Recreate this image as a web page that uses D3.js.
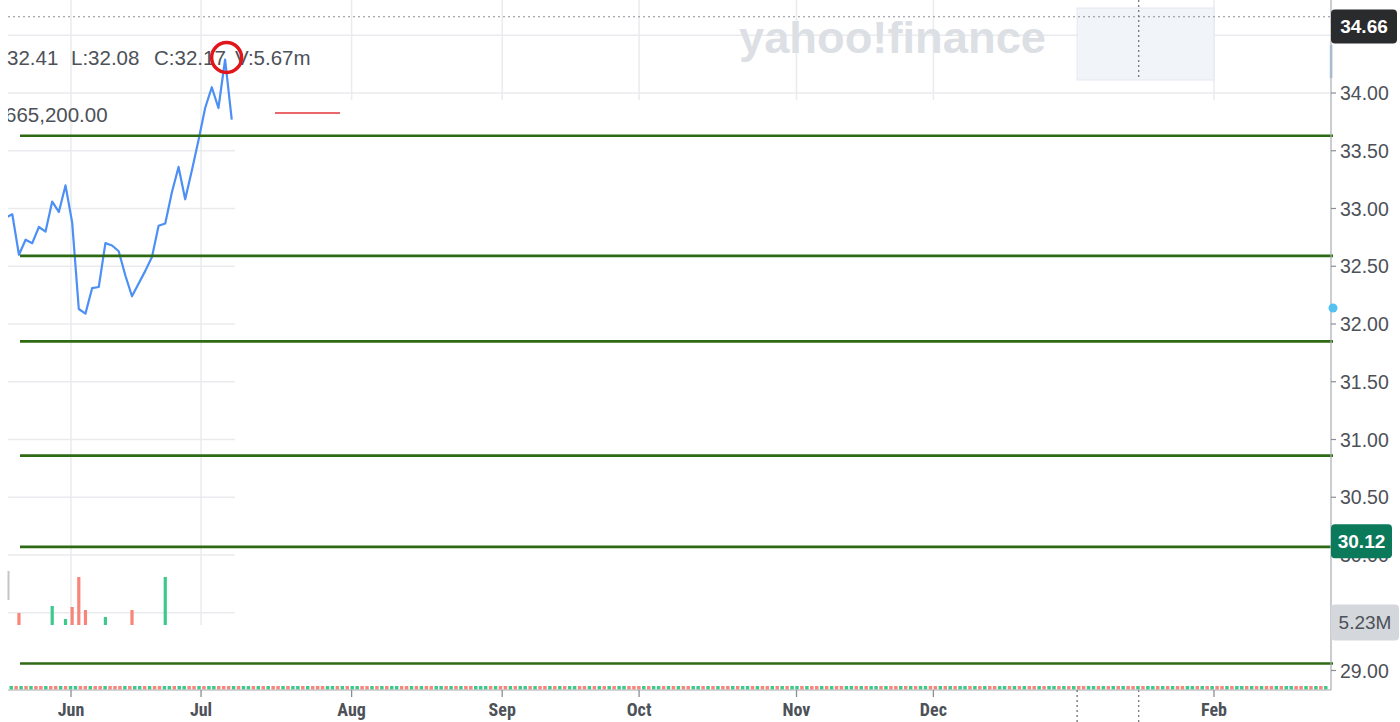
<!DOCTYPE html>
<html>
<head>
<meta charset="utf-8">
<script src="https://cdn.jsdelivr.net/npm/d3@7"></script>
<style>
  body { margin: 0; background: #fff; }
  svg { display: block; font-family: "Liberation Sans", Arial, sans-serif; }
</style>
</head>
<body>
<svg width="1400" height="722"></svg>
<script>
// daily closes of the small inset chart (late May -> early Jul)
var closes = [32.92, 32.95, 32.60, 32.73, 32.70, 32.84, 32.80, 33.06, 32.97, 33.20,
              32.88, 32.13, 32.09, 32.31, 32.32, 32.70, 32.68, 32.63, 32.42, 32.24,
              32.35, 32.46, 32.58, 32.85, 32.87, 33.14, 33.36, 33.08, 33.33, 33.59,
              33.87, 34.05, 33.87, 34.29, 33.77];

// visible volume bars of the inset (index into closes, millions, up/down)
var volIndex = [2, 7, 9, 10, 11, 12, 15, 19, 24];
var volValue = [2.4, 3.8, 1.2, 3.6, 9.6, 3.0, 1.6, 3.0, 9.6];
var volDir   = ["R", "G", "G", "R", "R", "R", "G", "R", "G"];

// horizontal levels drawn over the chart
var levels = [33.63, 32.59, 31.85, 30.86, 30.07, 29.06];

// right axis price labels
var lastPrice = 34.66;
var markPrice = 30.12;
var volLabel = "5.23M";
var yTicks = d3.range(29, 34.51, 0.5);
var hiddenTicks = [29.5, 34.5]; // fully under the label boxes

// header text
var header = ["32.41", "L:32.08", "C:32.17", "V:5.67m"];
var subHeader = "665,200.00";

// month ticks on the bottom axis (first trading day)
var monthDates  = ["2024-06-03", "2024-07-01", "2024-08-01", "2024-09-03", "2024-10-01",
                   "2024-11-01", "2024-12-02", "2025-01-02", "2025-02-03"];
var monthLabels = ["Jun", "Jul", "Aug", "Sep", "Oct", "Nov", "Dec", "", "Feb"];
var crossDate = "2025-01-16";
var holidays = ["2024-05-27", "2024-06-19", "2024-07-04", "2024-09-02", "2024-11-28",
                "2024-12-25", "2025-01-01", "2025-01-09", "2025-01-20"];

// up/down colour of the thin volume strip along the bottom
var strip = "GRGRGRRGRRGRGGRRGRRGRRRGRGGRGRRGGRGGRRGRGGRRRGRGGRGRGRRGRGGRGRRRGGRGRGGRRGRGRGGRRGRGRRGGRGRGRRGGGRGRRGRGGRGRRGRGRGGRRGRGRGRGGRRRGRGGRGRGRRGGRGRGRRGRGGRGRRGRGRGGRGRRGRGRRGGRGRGGRGRRGRGRGGRRGRGRGGRGRGRRGGRGRGRRGRGGRGRGRRGGRGRGRGRRGRGGRGRGRRGGRGRGRRGRGGRGRGRRGRGGRRGRGRG".split("");

var svg = d3.select("svg");
var W = 1400, H = 722;
var left = 8, axisX = 1331, axisY = 690;
var insetRight = 235, insetBottom = 625, bandBottom = 100;

var upColor = "#3cc98c", downColor = "#f7857a";
var textColor = "#4d5158";

var fmt = d3.timeFormat("%Y-%m-%d");
var days = d3.timeDay.range(new Date(2024, 4, 20), new Date(2025, 2, 1))
  .filter(d => d.getDay() % 6 !== 0 && holidays.indexOf(fmt(d)) < 0)
  .map(fmt);
var dayIdx = s => days.indexOf(s);

var x = d3.scaleLinear()
  .domain([dayIdx(monthDates[0]), dayIdx(monthDates[monthDates.length - 1])])
  .range([71, 1214]);
var y = d3.scaleLinear().domain([29, 34]).range([670.5, 93]);
var xInset = d3.scaleLinear().domain([0, closes.length - 1]).range([5.65, 231.75]);
var yVol = d3.scaleLinear().domain([0, 12]).range([insetBottom, 565]);

// clip: gridlines only show in the inset and in the top band
var defs = svg.append("defs");
var gridClip = defs.append("clipPath").attr("id", "gridClip");
gridClip.append("rect").attr("x", left).attr("y", 0).attr("width", insetRight - left).attr("height", insetBottom);
gridClip.append("rect").attr("x", left).attr("y", 0).attr("width", axisX - left).attr("height", bandBottom);
defs.append("clipPath").attr("id", "insetClip")
  .append("rect").attr("x", left).attr("y", 0).attr("width", insetRight - left).attr("height", H);

var grid = svg.append("g").attr("clip-path", "url(#gridClip)")
  .attr("stroke", "#eaebee").attr("stroke-width", 1.5);
grid.selectAll(".hg").data(yTicks).enter().append("line")
  .attr("x1", left).attr("x2", axisX)
  .attr("y1", d => y(d)).attr("y2", d => y(d));
grid.selectAll(".vg").data(monthDates.filter((d, i) => monthLabels[i] !== "")).enter().append("line")
  .attr("x1", d => x(dayIdx(d))).attr("x2", d => x(dayIdx(d)))
  .attr("y1", 0).attr("y2", insetBottom);

// range box over Jan -> Feb
svg.append("rect")
  .attr("x", x(dayIdx("2025-01-02"))).attr("y", 8)
  .attr("width", x(dayIdx("2025-02-03")) - x(dayIdx("2025-01-02"))).attr("height", 72)
  .attr("fill", "#f1f5f9").attr("stroke", "#e2e8ef").attr("stroke-width", 1);

// watermark
svg.append("text")
  .attr("x", 739).attr("y", 53)
  .attr("font-size", 45).attr("font-weight", 900)
  .attr("textLength", 307).attr("lengthAdjust", "spacingAndGlyphs")
  .attr("fill", "#dcdfe4")
  .text("yahoo!finance");

// last price dotted line + crosshair
svg.append("line")
  .attr("x1", left).attr("x2", axisX).attr("y1", y(lastPrice)).attr("y2", y(lastPrice))
  .attr("stroke", "#8d9096").attr("stroke-width", 1.2).attr("stroke-dasharray", "2,3");
var cx = x(dayIdx(crossDate));
svg.append("line").attr("x1", cx).attr("x2", cx).attr("y1", 0).attr("y2", 80)
  .attr("stroke", "#6b6f75").attr("stroke-width", 1.2).attr("stroke-dasharray", "2,3");
svg.append("line").attr("x1", cx).attr("x2", cx).attr("y1", axisY).attr("y2", H)
  .attr("stroke", "#6b6f75").attr("stroke-width", 1.2).attr("stroke-dasharray", "2,3");

// header text
var headerX = [7, 71, 154, 235];
svg.selectAll(".hdr").data(header).enter().append("text")
  .attr("x", (d, i) => headerX[i]).attr("y", 65)
  .attr("font-size", 20.5).attr("fill", textColor)
  .text(d => d);
svg.append("g").attr("clip-path", "url(#insetClip)")
  .append("text").attr("x", 5).attr("y", 122)
  .attr("font-size", 20.5).attr("fill", textColor)
  .text(subHeader);

// red short line
svg.append("line").attr("x1", 275).attr("x2", 340).attr("y1", 113).attr("y2", 113)
  .attr("stroke", "#e3353a").attr("stroke-width", 1.5);

// inset price line
var inset = svg.append("g").attr("clip-path", "url(#insetClip)");
inset.append("path")
  .datum(closes)
  .attr("fill", "none").attr("stroke", "#4c8ff5").attr("stroke-width", 2.2)
  .attr("stroke-linejoin", "round")
  .attr("d", d3.line().x((d, i) => xInset(i)).y(d => y(d)));

// inset volume bars
inset.selectAll(".vol").data(volIndex).enter().append("rect")
  .attr("x", d => xInset(d) - 1.6).attr("width", 3.2)
  .attr("y", (d, i) => yVol(volValue[i]))
  .attr("height", (d, i) => yVol(0) - yVol(volValue[i]))
  .attr("fill", (d, i) => volDir[i] === "G" ? upColor : downColor);
svg.append("line").attr("x1", 8.5).attr("x2", 8.5).attr("y1", 571).attr("y2", 600)
  .attr("stroke", "#c4c4c4").attr("stroke-width", 2);

// green level lines
svg.selectAll(".lvl").data(levels).enter().append("line")
  .attr("x1", 20).attr("x2", axisX + 2)
  .attr("y1", d => y(d)).attr("y2", d => y(d))
  .attr("stroke", "#2e6a14").attr("stroke-width", 2.6);

// thin volume strip
var xs = d3.scaleBand().domain(d3.range(strip.length)).range([left, axisX - 2]).padding(0.3);
svg.selectAll(".strip").data(strip).enter().append("rect")
  .attr("x", (d, i) => xs(i)).attr("width", xs.bandwidth())
  .attr("y", 686).attr("height", 3.5)
  .attr("fill", d => d === "G" ? upColor : downColor);

// bottom axis
svg.append("line").attr("x1", left).attr("x2", axisX).attr("y1", axisY).attr("y2", axisY)
  .attr("stroke", "#a9abb0").attr("stroke-width", 1);
var mt = svg.selectAll(".mt").data(monthDates).enter().append("g")
  .attr("transform", d => "translate(" + x(dayIdx(d)) + ",0)");
mt.append("line")
  .attr("y1", axisY).attr("y2", (d, i) => monthLabels[i] === "" ? H : axisY + 7)
  .attr("stroke", (d, i) => monthLabels[i] === "" ? "#6b6f75" : "#8a8d93")
  .attr("stroke-width", 1.3)
  .attr("stroke-dasharray", (d, i) => monthLabels[i] === "" ? "2,3" : null);
mt.filter((d, i) => monthLabels[i] !== "").append("text")
  .attr("y", 716).attr("text-anchor", "middle")
  .attr("font-family", "'Liberation Sans Narrow', 'Roboto Condensed', 'Liberation Sans', sans-serif")
  .attr("font-size", 18).attr("font-weight", "bold").attr("fill", textColor)
  .text(d => monthLabels[monthDates.indexOf(d)]);

// right axis
svg.append("line").attr("x1", axisX).attr("x2", axisX).attr("y1", 0).attr("y2", axisY)
  .attr("stroke", "#a9abb0").attr("stroke-width", 1.2);
svg.append("rect").attr("x", axisX - 1.2).attr("y", 45).attr("width", 2.6).attr("height", 33)
  .attr("fill", "#a7bbd1");
var yt = svg.selectAll(".yt").data(yTicks).enter().append("g")
  .attr("transform", d => "translate(0," + y(d) + ")");
yt.append("line").attr("x1", axisX).attr("x2", axisX + 5).attr("stroke", "#8a8d93").attr("stroke-width", 1.2);
yt.filter(d => hiddenTicks.indexOf(d) < 0).append("text").attr("x", 1340).attr("dy", "0.36em")
  .attr("font-size", 19.5).attr("fill", textColor)
  .text(d => d.toFixed(2));

// blue dot on axis
svg.append("circle").attr("cx", 1333).attr("cy", 308).attr("r", 4.5).attr("fill", "#55c1f3");

// price label boxes
function priceBox(cy, w, h, fill, color, label, weight) {
  var g = svg.append("g").attr("transform", "translate(1331," + cy + ")");
  g.append("rect").attr("x", 0).attr("y", -h / 2).attr("width", w).attr("height", h)
    .attr("rx", 4).attr("fill", fill);
  g.append("text").attr("x", w / 2).attr("dy", "0.36em").attr("text-anchor", "middle")
    .attr("font-size", 19).attr("font-weight", weight).attr("fill", color)
    .text(label);
}
priceBox(Math.max(y(lastPrice), 26.5), 66, 34, "#2a2b2d", "#fff", lastPrice.toFixed(2), "bold");
priceBox(y(markPrice), 61, 34, "#0b7a5b", "#fff", markPrice.toFixed(2), "bold");
priceBox(622.5, 68, 36, "#d4d7dc", "#4d5158", volLabel, "normal");

// red circle on the peak
var peak = d3.maxIndex(closes);
svg.append("circle")
  .attr("cx", xInset(peak) + 1.5).attr("cy", y(closes[peak]) - 2).attr("r", 15)
  .attr("fill", "none").attr("stroke", "#e0161b").attr("stroke-width", 3.5);
</script>
</body>
</html>
